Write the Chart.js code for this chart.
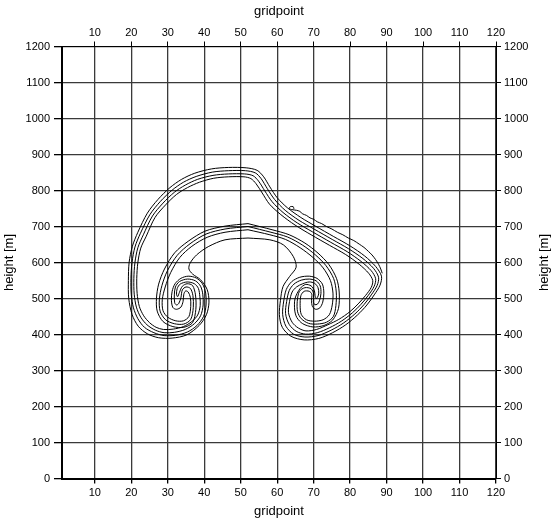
<!DOCTYPE html>
<html>
<head>
<meta charset="utf-8">
<script src="https://cdn.jsdelivr.net/npm/chart.js@4.4.1/dist/chart.umd.min.js"></script>
<style>
  html, body { margin: 0; padding: 0; background: #ffffff; }
  canvas { display: block; }
</style>
</head>
<body>
<canvas id="chart" width="553" height="523"></canvas>
<script>
// Axis ticks
const xTicks = [10, 20, 30, 40, 50, 60, 70, 80, 90, 100, 110, 120];
const yTicks = [0, 100, 200, 300, 400, 500, 600, 700, 800, 900, 1000, 1100, 1200];
const xTitle = 'gridpoint';
const yTitle = 'height [m]';

// Contour level 1: outer edge of the cap plus the inner (hollow-side) edge
const level1 = [
  [52,668],[45.7,663],[41.1,644],[37.9,621],[36.1,598],[35.8,582],[36.8,568],[39.0,552],[40.8,525],
  [41.3,490],[40.6,455],[38.6,425],[35.2,399],[31.2,390],[27.5,391],[24.4,402],[21.9,423],[20.2,456],
  [19.3,500],[19.2,550],[19.4,600],[20.3,645],[21.8,684],[24.4,737],[27.3,775],[30.6,808],[33.8,831],
  [37.4,848],[42.0,860],[46.6,864],[51.5,863],[54.5,856],[56.3,838],[58.0,810],[60.0,780],[62.8,752],
  [66.5,725],[70.5,701],[75.5,672],[80.0,646],[84.0,618],[87.0,589],[88.6,562],[88.2,537],[86.6,510],
  [84.6,482],[82.0,454],[78.8,427],[75.2,405],[71.4,389],[67.4,385],[63.8,395],[61.4,420],[60.6,455],
  [60.9,495],[61.6,533],[63.4,561],[65.2,587],[64.4,617],[61.7,649],[58.0,663],[52,668]
];

// Contour level 2
const level2 = [
  [52,691],[45.7,684],[40.8,670],[36.6,645],[33.3,614],[30.8,572],[29.3,532],[28.5,497],[28.7,466],
  [30.0,448],[32.2,438],[34.3,438],[35.8,450],[36.3,478],[36.2,503],[35.6,518],[34.9,521],[34.4,512],
  [34.2,492],[33.6,476],[32.4,470],[31.4,475],[31.0,495],[31.2,520],[32.0,541],[33.6,556],[35.6,562],
  [37.8,557],[39.5,541],[40.4,515],[40.5,482],[39.8,450],[38.0,425],[35.4,407],[32.2,398],[29.0,397],
  [26.2,405],[23.6,420],[21.8,444],[20.6,474],[20.0,510],[19.9,555],[20.2,600],[21.0,643],[22.5,681],
  [25.1,733],[28.0,770],[31.2,801],[34.3,823],[37.8,839],[42.2,851],[46.6,855],[51.3,855],[54.0,849],
  [55.6,833],[57.3,805],[59.3,775],[62.2,745],[66.0,717],[70.1,693],[75.1,664],[79.6,638],[83.5,611],
  [86.4,584],[87.8,559],[87.4,536],[85.8,510],[83.8,483],[81.3,457],[78.2,432],[74.8,412],[71.2,397],
  [67.6,393],[64.5,401],[62.4,423],[61.5,456],[61.8,493],[62.5,525],[64.0,547],[66.2,559],[68.8,562],
  [70.9,556],[72.4,540],[72.8,515],[72.5,490],[71.7,474],[70.6,470],[69.7,477],[69.4,495],[69.5,512],
  [68.8,520],[67.4,520],[66.5,508],[66.3,480],[66.6,456],[68.0,441],[70.2,437],[72.6,441],[74.3,455],
  [75.1,482],[75.3,515],[74.6,550],[72.6,585],[69.8,614],[66.3,641],[62.3,664],[58.0,677],[52,691]
];

// Contour level 3
const level3 = [
  [52,700],[45.7,693],[40.5,679],[36.1,652],[32.6,620],[29.9,577],[28.4,536],[27.7,498],[27.9,465],
  [29.4,441],[31.8,430],[34.4,429],[36.3,442],[37.0,475],[36.9,508],[36.2,528],[35.0,532],[34.0,524],
  [33.6,502],[33.0,486],[32.4,482],[31.9,488],[31.8,510],[32.1,532],[33.2,547],[35.4,554],[37.6,549],
  [39.0,534],[39.6,512],[39.7,482],[39.0,452],[37.3,430],[34.8,414],[31.8,406],[29.0,405],[26.6,412],
  [24.3,427],[22.6,448],[21.4,476],[20.8,512],[20.7,555],[21.0,600],[21.8,641],[23.3,677],[25.8,729],
  [28.7,765],[31.8,795],[34.8,815],[38.2,831],[42.4,842],[46.6,846],[51.1,846],[53.4,841],[54.9,826],
  [56.6,799],[58.6,769],[61.6,739],[65.5,710],[69.7,685],[74.7,656],[79.2,630],[83.0,603],[85.8,577],
  [87.0,555],[86.6,534],[85.0,509],[83.0,484],[80.6,460],[77.6,437],[74.4,419],[71.0,405],[67.8,401],
  [65.2,409],[63.3,428],[62.3,458],[62.6,492],[63.3,522],[64.6,540],[66.6,551],[68.8,554],[70.7,549],
  [71.8,535],[72.0,514],[71.6,494],[71.0,484],[70.3,483],[69.9,492],[70.0,512],[69.3,527],[67.6,530],
  [66.1,520],[65.5,492],[65.6,463],[66.6,444],[68.6,431],[71.0,429],[73.5,434],[75.4,450],[76.1,480],
  [76.2,518],[75.5,555],[73.4,591],[70.5,621],[67.0,648],[62.8,671],[58.3,684],[52,700]
];

// Contour level 4 (innermost)
const level4 = [
  [52,708],[45.7,701],[40.2,687],[35.6,659],[31.9,627],[29.1,582],[27.5,540],[26.9,500],[27.1,465],
  [28.7,436],[31.4,422],[34.4,420],[36.8,433],[37.7,470],[37.6,510],[36.8,536],[35.3,541],[34.0,534],
  [33.2,517],[32.7,505],[32.4,512],[32.6,528],[33.4,540],[35.3,546],[37.3,541],[38.4,528],[38.8,505],
  [38.9,480],[38.2,454],[36.6,436],[34.3,422],[31.5,415],[28.8,414],[26.8,420],[25.0,433],[23.4,452],
  [22.2,478],[21.6,514],[21.5,556],[21.8,600],[22.6,640],[24.1,673],[26.5,725],[29.4,760],[32.4,789],
  [35.4,808],[38.7,823],[42.6,834],[46.6,838],[50.9,838],[52.8,833],[54.2,819],[55.9,793],[57.9,762],
  [61.0,733],[64.9,704],[69.3,677],[74.3,648],[78.8,622],[82.5,595],[85.1,570],[86.2,550],[85.8,531],
  [84.2,508],[82.2,485],[79.9,463],[76.9,442],[73.9,427],[70.8,414],[67.9,410],[65.8,418],[64.1,434],
  [63.1,461],[63.4,492],[64.1,518],[65.3,532],[67.0,541],[68.8,546],[70.3,542],[71.2,530],[71.4,515],
  [71.1,504],[70.7,500],[70.4,508],[70.2,522],[69.3,535],[67.8,539],[66.3,528],[64.9,500],[64.8,468],
  [65.4,447],[67.0,430],[69.8,421],[72.8,425],[75.2,440],[76.8,472],[77.0,518],[76.3,555],[74.2,594],
  [71.2,626],[67.6,654],[63.3,677],[58.6,691],[52,708]
];

// Ragged level-1 fragment above the sloping flank
const fringe = [
  [64.6,749],[64.4,755],[63.6,755],[63.3,750],[64.0,747],[65.3,745],[66.2,742],[67.0,735],[68.0,731],
  [69.0,724],[70.0,720],[71.0,713],[72.2,708],[73.5,700],[75.0,693],[76.5,684],[78.0,677],[79.5,668],
  [81.0,661],[82.5,651],[83.8,642],[85.0,631],[86.0,621],[87.0,608],[87.8,595],[88.4,582],[88.8,570]
];

const toPoints = arr => arr.map(([x, y]) => ({ x, y }));

function contour(data, label) {
  return {
    label,
    data: toPoints(data),
    showLine: true,
    borderColor: '#000',
    borderWidth: 1,
    pointRadius: 0,
    pointHoverRadius: 0,
    fill: false,
    tension: 0.3
  };
}

const tickFont = { family: "'Liberation Sans', Arial, sans-serif", size: 11 };
const titleFont = { family: "'Liberation Sans', Arial, sans-serif", size: 13 };
const gridColor = '#3a3a3a';
const plainLabel = v => String(v);

// Right-hand axis title, drawn reading upward like the left one
const rightTitle = {
  id: 'rightTitle',
  afterDraw(chart) {
    const { ctx, chartArea } = chart;
    ctx.save();
    ctx.font = `${titleFont.size}px ${titleFont.family}`;
    ctx.fillStyle = '#000';
    ctx.textAlign = 'center';
    ctx.textBaseline = 'middle';
    ctx.translate(544, (chartArea.top + chartArea.bottom) / 2);
    ctx.rotate(-Math.PI / 2);
    ctx.fillText(yTitle, 0, 0);
    ctx.restore();
  }
};

const whiteBg = {
  id: 'whiteBg',
  beforeDraw(chart) {
    const { ctx, width, height } = chart;
    ctx.save();
    ctx.fillStyle = '#fff';
    ctx.fillRect(0, 0, width, height);
    ctx.restore();
  }
};

new Chart(document.getElementById('chart'), {
  type: 'scatter',
  data: {
    datasets: [
      contour(level1, 'level 1'),
      contour(level2, 'level 2'),
      contour(level3, 'level 3'),
      contour(level4, 'level 4'),
      contour(fringe, 'level 1 fragment')
    ]
  },
  options: {
    responsive: false,
    animation: false,
    devicePixelRatio: 1,
    layout: { padding: 0 },
    plugins: { legend: { display: false }, tooltip: { enabled: false } },
    scales: {
      x: {
        type: 'linear', position: 'bottom', min: 1, max: 120,
        afterBuildTicks: s => { s.ticks = xTicks.map(v => ({ value: v })); },
        afterFit: s => { s.height = 44.5; },
        grid: { color: gridColor, lineWidth: 1.3, tickLength: 5, tickColor: '#000' },
        border: { color: '#000', width: 2 },
        ticks: { font: tickFont, color: '#000', padding: 3, maxRotation: 0, autoSkip: false, callback: plainLabel },
        title: { display: true, text: xTitle, font: titleFont, color: '#000', padding: { top: 0, bottom: 4 } }
      },
      x2: {
        type: 'linear', position: 'top', min: 1, max: 120,
        afterBuildTicks: s => { s.ticks = xTicks.map(v => ({ value: v })); },
        afterFit: s => { s.height = 46.5; },
        grid: { drawOnChartArea: false, tickLength: 5, color: '#000' },
        border: { color: '#000', width: 1 },
        ticks: { font: tickFont, color: '#000', padding: 2, maxRotation: 0, autoSkip: false, callback: plainLabel },
        title: { display: true, text: xTitle, font: titleFont, color: '#000', padding: { top: 4, bottom: 0 } }
      },
      y: {
        type: 'linear', position: 'left', min: 0, max: 1200,
        afterBuildTicks: s => { s.ticks = yTicks.map(v => ({ value: v })); },
        afterFit: s => { s.width = 62; },
        grid: { color: gridColor, lineWidth: 1.3, tickLength: 8, tickColor: '#000' },
        border: { color: '#000', width: 2 },
        ticks: { font: tickFont, color: '#000', padding: 4, autoSkip: false, callback: plainLabel },
        title: { display: true, text: yTitle, font: titleFont, color: '#000', padding: { top: 2, bottom: 0 } }
      },
      y2: {
        type: 'linear', position: 'right', min: 0, max: 1200,
        afterBuildTicks: s => { s.ticks = yTicks.map(v => ({ value: v })); },
        afterFit: s => { s.width = 57; },
        grid: { drawOnChartArea: false, tickLength: 5, color: '#000' },
        border: { color: '#000', width: 1 },
        ticks: { font: tickFont, color: '#000', padding: 3, autoSkip: false, callback: plainLabel }
      }
    }
  },
  plugins: [whiteBg, rightTitle]
});
</script>
</body>
</html>
